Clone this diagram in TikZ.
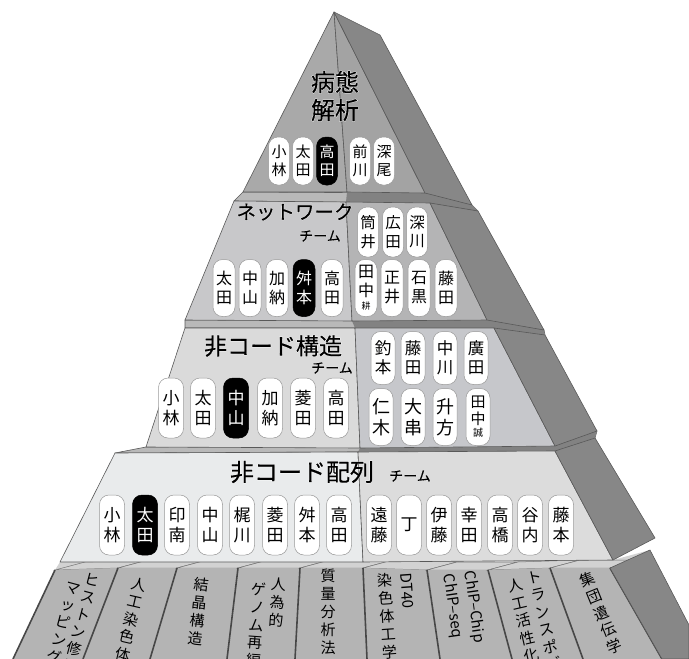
\documentclass[tikz,border=0pt]{standalone}
\usepackage{fontspec}
\usetikzlibrary{calc}
\newfontfamily\jp{Noto Sans CJK JP}
\newfontfamily\jpt[FakeBold=0.6]{Noto Sans CJK JP}
\newfontfamily\jpglow[FakeBold=4]{Noto Sans CJK JP}
\definecolor{sideg}{HTML}{878787}
\definecolor{aL}{HTML}{A9A9A9}
\definecolor{aR}{HTML}{A3A3A3}
\definecolor{bL}{HTML}{C8C8CA}
\definecolor{bR}{HTML}{B4B4B5}
\definecolor{cL}{HTML}{DADADA}
\definecolor{cR}{HTML}{C6C7CB}
\definecolor{dL}{HTML}{E9EBEC}
\definecolor{dR}{HTML}{DCDCDC}
\definecolor{panelg}{HTML}{B4B4B4}
\definecolor{ptop}{HTML}{D2D2D2}
\definecolor{gapL}{HTML}{B9B9B9}
\definecolor{gapD}{HTML}{828282}
\newcommand\mytitle[5]{%
  \node[ttl,text=white,font=\jpglow\fontsize{#3}{#4}\selectfont] (#1g) at #2 {#5};
  \node[ttl,font=\jpt\fontsize{#3}{#4}\selectfont] (#1) at #2 {#5};}
\tikzset{
  face/.style={draw=black!65, line width=0.6pt, line join=round},
  badge/.style={draw=black!40, line width=0.5pt, fill=white, rounded corners=9.5pt, inner sep=0pt, align=center},
  bA/.style={badge, minimum width=21pt, minimum height=48pt, font=\jp\fontsize{15}{18}\selectfont},
  bBt/.style={badge, minimum width=21pt, minimum height=50pt, font=\jp\fontsize{15.5}{18.5}\selectfont},
  bB/.style={badge, minimum width=22pt, minimum height=57pt, font=\jp\fontsize{16}{19}\selectfont},
  bC/.style={badge, minimum width=25pt, minimum height=60pt, font=\jp\fontsize{17}{20}\selectfont},
  bCt/.style={badge, minimum width=24pt, minimum height=53pt, font=\jp\fontsize{16.5}{19}\selectfont},
  bCb/.style={badge, minimum width=24pt, minimum height=57pt, font=\jp\fontsize{18}{21}\selectfont},
  bD/.style={badge, minimum width=25pt, minimum height=60pt, font=\jp\fontsize{17}{20}\selectfont},
  hl/.style={fill=black, draw=black, text=white},
  ttl/.style={inner sep=0pt, align=center},
  pcol/.style={font=\jp\fontsize{15}{18}\selectfont, align=center, inner sep=0pt, anchor=north},
  plat/.style={font=\jp\fontsize{15}{17}\selectfont, inner sep=0pt, anchor=west},
  sepline/.style={draw=black!72, line width=1.6pt},
}
\begin{document}
\begin{tikzpicture}[x=1pt,y=-1pt]
\useasboundingbox (0,0) rectangle (689,659);
\clip (0,0) rectangle (689,659);

% ---------- bottom row of panels ----------
\coordinate (s0t) at (55,570);  \coordinate (s0b) at (13,659);
\coordinate (s1t) at (118,568); \coordinate (s1b) at (83,659);
\coordinate (s2t) at (177,568); \coordinate (s2b) at (150,659);
\coordinate (s3t) at (238,568); \coordinate (s3b) at (227,659);
\coordinate (s4t) at (300,568); \coordinate (s4b) at (295,659);
\coordinate (s5t) at (363,568); \coordinate (s5b) at (367,659);
\coordinate (s6t) at (427,570); \coordinate (s6b) at (440,659);
\coordinate (s7t) at (488,570); \coordinate (s7b) at (512,659);
\coordinate (s8t) at (550,568); \coordinate (s8b) at (583,659);
\coordinate (s9t) at (610,568); \coordinate (s9b) at (662,659);

\fill[ptop] (60,562) -- (613,560) -- (650,550) -- (612,570) -- (55,570) -- cycle;
\foreach \a/\b in {0/1,1/2,2/3,3/4,4/5,5/6,6/7,7/8,8/9}{
  \filldraw[fill=ptop, draw=black!55, line width=0.5pt] (s\a t) -- ++(30,-8) -- ($(s\b t)+(30,-8)$) -- (s\b t) -- cycle;
  \fill[panelg] (s\a t) -- (s\b t) -- (s\b b) -- (s\a b) -- cycle;
}
\foreach \a in {0,...,9}{ \draw[sepline] (s\a t) -- (s\a b); }
\filldraw[fill=sideg, draw=black!65, line width=0.6pt] (s9t) -- (650,550) -- (689,625) -- (689,659) -- (s9b) -- cycle;

% panel texts
\node[pcol, rotate=-15] (p1a) at (94,574) {ヒ\\ス\\ト\\ン\\修\\飾};
\node[pcol, rotate=-15] (p1b) at (74,583) {マ\\ッ\\ピ\\ン\\グ};
\node[pcol, rotate=-13] (p2) at (141,578) {人\\工\\染\\色\\体};
\node[pcol, rotate=-6] (p3) at (202,578) {結\\晶\\構\\造};
\node[pcol, rotate=-4] (p4a) at (279,578) {人\\為\\的};
\node[pcol, rotate=-4] (p4b) at (259,582) {ゲ\\ノ\\ム\\再\\編};
\node[pcol] (p5) at (328,569) {質\\量\\分\\析\\法};
\node[plat, rotate=-86] (p6a) at (406,573) {DT40};
\node[pcol, rotate=4] (p6b) at (384,573) {染\\色\\体\\工\\学};
\node[plat, rotate=-82] (p7a) at (469,571) {ChIP–Chip};
\node[plat, rotate=-82] (p7b) at (448,574) {ChIP–seq};
\node[pcol, rotate=13] (p8a) at (533,571) {ト\\ラ\\ン\\ス\\ポ\\ゾ\\ン};
\node[pcol, rotate=13] (p8b) at (514,579) {人\\工\\活\\性\\化};
\node[pcol, rotate=22] (p9) at (585,573) {集\\団\\遺\\伝\\学};

% ---------- gaps between tiers ----------
\filldraw[fill=gapL, face] (146,447) -- (555,446) -- (597,431) -- (595,438) -- (555,451) -- (115,453) -- cycle;
\fill[gapD] (360,448) -- (555,446) -- (597,431) -- (595,438) -- (555,451) -- (358,452) -- cycle;
\filldraw[fill=gapL, face] (185,320) -- (487,320) -- (544,330) -- (545,335) -- (494,328) -- (185,328) -- cycle;
\fill[gapD] (352,321) -- (487,320) -- (544,330) -- (545,335) -- (494,328) -- (355,328) -- cycle;
\filldraw[fill=gapL, face] (243,192) -- (425,193) -- (472,205) -- (478,211) -- (430,203) -- (234,201) -- cycle;
\fill[gapD] (347,192) -- (425,193) -- (472,205) -- (478,211) -- (430,203) -- (346,202) -- cycle;

% ---------- tier 4 ----------
\filldraw[fill=dL, face] (115,453) -- (358,452) -- (363,562) -- (60,562) -- cycle;
\filldraw[fill=dR, face] (358,452) -- (555,451) -- (613,560) -- (363,562) -- cycle;
\filldraw[fill=sideg, face] (555,451) -- (595,438) -- (655,538) -- (613,560) -- cycle;

% ---------- tier 3 ----------
\filldraw[fill=cL, face] (185,328) -- (355,328) -- (360,448) -- (146,447) -- cycle;
\filldraw[fill=cR, face] (355,328) -- (494,328) -- (555,446) -- (360,448) -- cycle;
\filldraw[fill=sideg, face] (494,328) -- (545,335) -- (597,431) -- (555,446) -- cycle;

% ---------- tier 2 ----------
\filldraw[fill=bL, face] (234,201) -- (346,202) -- (352,321) -- (185,320) -- cycle;
\filldraw[fill=bR, face] (346,202) -- (430,203) -- (487,320) -- (352,321) -- cycle;
\filldraw[fill=sideg, face] (430,203) -- (478,211) -- (544,330) -- (487,320) -- cycle;

% ---------- tier 1 ----------
\filldraw[fill=aL, face] (334,12) -- (347,192) -- (243,192) -- cycle;
\filldraw[fill=aR, face] (334,12) -- (425,193) -- (347,192) -- cycle;
\filldraw[fill=sideg, face] (334,12) -- (380,35) -- (472,205) -- (425,193) -- cycle;

% ---------- titles ----------
\mytitle{t1}{(335,96)}{24}{28}{病態\\解析}
\mytitle{t2}{(295,212)}{19.5}{22}{ネットワーク}
\mytitle{t2s}{(320,236)}{14}{16}{チーム}
\mytitle{t3}{(273,346)}{23}{26}{非コード構造}
\mytitle{t3s}{(332,368)}{14}{16}{チーム}
\mytitle{t4}{(302,472)}{24}{27}{非コード配列}
\mytitle{t4s}{(410,476)}{14}{16}{チーム}

% ---------- tier 1 badges ----------
\node[bA] (a1) at (279,161) {小\\林};
\node[bA] (a2) at (303,161) {太\\田};
\node[bA,hl] (a3) at (327,161) {高\\田};
\node[bA] (a4) at (360,161) {前\\川};
\node[bA] (a5) at (384,161) {深\\尾};

% ---------- tier 2 badges ----------
\node[bBt] (b1) at (368,232) {筒\\井};
\node[bBt] (b2) at (393,232) {広\\田};
\node[bBt] (b3) at (417,232) {深\\川};
\node[bB] (b4) at (224,288) {太\\田};
\node[bB] (b5) at (250,288) {中\\山};
\node[bB] (b6) at (277,288) {加\\納};
\node[bB,hl] (b7) at (304,288) {舛\\本};
\node[bB] (b8) at (332,288) {高\\田};
\node[bB] (b9) at (366,288) {田\\中\\[-6pt]{\fontsize{9}{10}\selectfont 耕}};
\node[bB] (b10) at (392,288) {正\\井};
\node[bB] (b11) at (419,288) {石\\黒};
\node[bB] (b12) at (446,288) {藤\\田};

% ---------- tier 3 badges ----------
\node[bC] (c1) at (171,408) {小\\林};
\node[bC] (c2) at (203,408) {太\\田};
\node[bC,hl] (c3) at (236,408) {中\\山};
\node[bC] (c4) at (270,408) {加\\納};
\node[bC] (c5) at (303,408) {菱\\田};
\node[bC] (c6) at (336,408) {高\\田};
\node[bCt] (c7) at (383,358) {釣\\本};
\node[bCt] (c8) at (413,358) {藤\\田};
\node[bCt] (c9) at (445,358) {中\\川};
\node[bCt] (c10) at (476,358) {廣\\田};
\node[bCb] (c11) at (381,417) {仁\\木};
\node[bCb] (c12) at (413,417) {大\\串};
\node[bCb] (c13) at (445,417) {升\\方};
\node[bCb,font=\jp\fontsize{15}{17}\selectfont] (c14) at (478,417) {田\\中\\[-5pt]{\fontsize{10}{11}\selectfont 誠}};

% ---------- tier 4 badges ----------
\node[bD] (d1) at (112,525) {小\\林};
\node[bD,hl] (d2) at (145,525) {太\\田};
\node[bD] (d3) at (177,525) {印\\南};
\node[bD] (d4) at (210,525) {中\\山};
\node[bD] (d5) at (242,525) {梶\\川};
\node[bD] (d6) at (275,525) {菱\\田};
\node[bD] (d7) at (307,525) {舛\\本};
\node[bD] (d8) at (339,525) {高\\田};
\node[bD] (d9) at (379,525) {遠\\藤};
\node[bD] (d10) at (409,525) {丁};
\node[bD] (d11) at (439,525) {伊\\藤};
\node[bD] (d12) at (469,525) {幸\\田};
\node[bD] (d13) at (500,525) {高\\橋};
\node[bD] (d14) at (530,525) {谷\\内};
\node[bD] (d15) at (561,525) {藤\\本};
\end{tikzpicture}
\end{document}
